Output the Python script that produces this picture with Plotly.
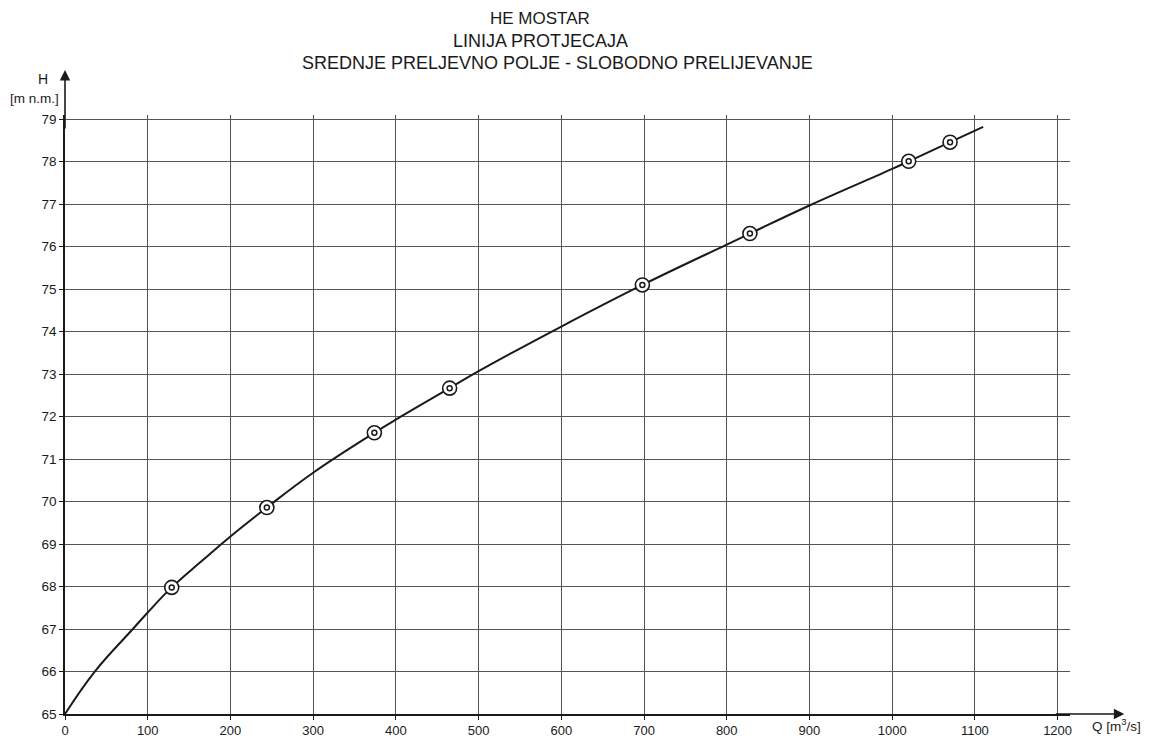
import plotly.graph_objects as go

# --- data ---
# curve (Q [m3/s], H [m n.m.])
q_curve = [0, 36, 82, 100, 129, 167, 200, 244, 300, 374, 400, 465, 500,
           600, 698, 800, 828, 900, 1000, 1020, 1070, 1110]
h_curve = [65.0, 66.0, 67.0, 67.39, 67.98, 68.63, 69.18, 69.86, 70.68, 71.62,
           71.93, 72.67, 73.07, 74.12, 75.1, 76.05, 76.31, 76.97, 77.83, 78.01, 78.46, 78.82]

# measured points
q_pts = [129, 244, 374, 465, 698, 828, 1020, 1070]
h_pts = [67.98, 69.86, 71.62, 72.67, 75.1, 76.31, 78.01, 78.46]

x_ticks = list(range(0, 1201, 100))
y_ticks = list(range(65, 80))

title_lines = ["HE MOSTAR", "LINIJA PROTJECAJA",
               "SREDNJE PRELJEVNO POLJE - SLOBODNO PRELIJEVANJE"]

FONT = "Arial, Liberation Sans, sans-serif"
INK = "#1a1a1a"

fig = go.Figure()

fig.add_trace(go.Scatter(
    x=q_curve, y=h_curve, mode="lines",
    line=dict(color=INK, width=2, shape="spline", smoothing=1.2),
    hoverinfo="skip", showlegend=False,
))
# measured points: outer ring with white fill, small ring in the middle
fig.add_trace(go.Scatter(
    x=q_pts, y=h_pts, mode="markers",
    marker=dict(symbol="circle", size=14, color="white",
                line=dict(color=INK, width=1.6)),
    showlegend=False,
))
fig.add_trace(go.Scatter(
    x=q_pts, y=h_pts, mode="markers",
    marker=dict(symbol="circle", size=5, color="white",
                line=dict(color=INK, width=1.5)),
    hoverinfo="skip", showlegend=False,
))

# title block
for txt, xx, yy, fs in zip(title_lines, [0.473, 0.473, 0.4905],
                           [1.161, 1.1235, 1.0868], [17, 18, 18]):
    fig.add_annotation(text=txt, x=xx, y=yy, xref="paper", yref="paper",
                       yanchor="middle", showarrow=False,
                       font=dict(size=fs, color=INK, family=FONT))

# axis labels
fig.add_annotation(text="H", x=-0.029, y=1.060, xref="paper", yref="paper",
                   yanchor="middle", showarrow=False,
                   font=dict(size=14, color=INK, family=FONT))
fig.add_annotation(text="[m n.m.]", x=-0.004, y=1.027, xref="paper", yref="paper",
                   xanchor="right", yanchor="middle", showarrow=False,
                   font=dict(size=13.5, color=INK, family=FONT))
fig.add_annotation(text="Q [m<sup>3</sup>/s]", x=1.02, y=-0.018, xref="paper", yref="paper",
                   xanchor="left", yanchor="middle", showarrow=False,
                   font=dict(size=13.5, color=INK, family=FONT))

# axis arrows (tail offsets in pixels)
fig.add_annotation(x=1.054, y=0, ax=-70, ay=0, xref="paper", yref="paper",
                   axref="pixel", ayref="pixel", text="", showarrow=True,
                   arrowhead=2, arrowsize=1.3, arrowwidth=1.6, arrowcolor=INK)
fig.add_annotation(x=0, y=1.075, ax=0, ay=60, xref="paper", yref="paper",
                   axref="pixel", ayref="pixel", text="", showarrow=True,
                   arrowhead=2, arrowsize=1.3, arrowwidth=1.6, arrowcolor=INK)

fig.update_xaxes(
    range=[0, 1215], tickvals=x_ticks, showgrid=True, gridcolor="#555555", gridwidth=1,
    showline=True, linecolor=INK, linewidth=1.6, zeroline=False, automargin=False,
    ticks="outside", ticklen=4, tickcolor=INK,
    tickfont=dict(size=13, color=INK, family=FONT),
)
fig.update_yaxes(
    range=[65, 79.1], tickvals=y_ticks, showgrid=True, gridcolor="#555555", gridwidth=1,
    showline=True, linecolor=INK, linewidth=1.6, zeroline=False, automargin=False,
    ticks="outside", ticklen=4, tickcolor=INK,
    tickfont=dict(size=13.5, color=INK, family=FONT),
)

# page body adds an 8px margin, so the figure is 16px smaller than the window
fig.update_layout(
    width=1144, height=732,
    margin=dict(l=57, r=82, t=107, b=26),
    paper_bgcolor="white", plot_bgcolor="white",
    font=dict(family=FONT, color=INK),
    showlegend=False,
)

fig.write_html("out.html")
